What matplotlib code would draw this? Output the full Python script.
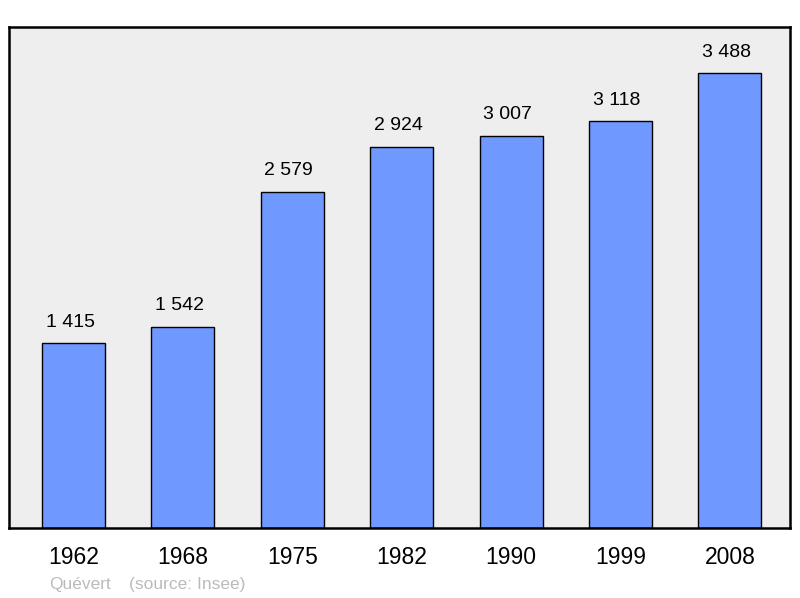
import matplotlib.pyplot as plt

# Population of Quévert by census year
years = ['1962', '1968', '1975', '1982', '1990', '1999', '2008']
population = [1415, 1542, 2579, 2924, 3007, 3118, 3488]
labels = ['1 415', '1 542', '2 579', '2 924', '3 007', '3 118', '3 488']

plt.rcParams['font.family'] = ['Liberation Sans', 'DejaVu Sans']

fig = plt.figure(figsize=(8, 5.98), dpi=100)
ax = fig.add_axes([0.01125, 0.1171, 0.97625, 0.8377])
ax.set_facecolor('#eeeeee')

x = list(range(len(years)))
ax.bar(x, population, width=0.576, color='#7099ff', edgecolor='black',
       linewidth=1.0, zorder=2)

# value above each bar (slightly left, like the original)
for xi, v, lab in zip(x, population, labels):
    ax.annotate(lab, (xi, v), xytext=(-2.5, 9), textcoords='offset points',
                ha='center', va='bottom', fontsize=14, color='black')

ax.set_xlim(-0.59, 6.55)
ax.set_ylim(0, 3842)
ax.set_xticks(x)
ax.set_xticklabels(years, fontsize=16.5)
ax.tick_params(axis='x', length=0, pad=13)
ax.set_yticks([])

for s in ax.spines.values():
    s.set_linewidth(1.8)
    s.set_color('black')

fig.text(49 / 800, 1 - 584 / 598, 'Quévert', fontsize=12.5, color='#bbbbbb',
         ha='left', va='center')
fig.text(129 / 800, 1 - 584 / 598, '(source: Insee)', fontsize=12.5,
         color='#bbbbbb', ha='left', va='center')

fig.savefig('out.png', dpi=100)
